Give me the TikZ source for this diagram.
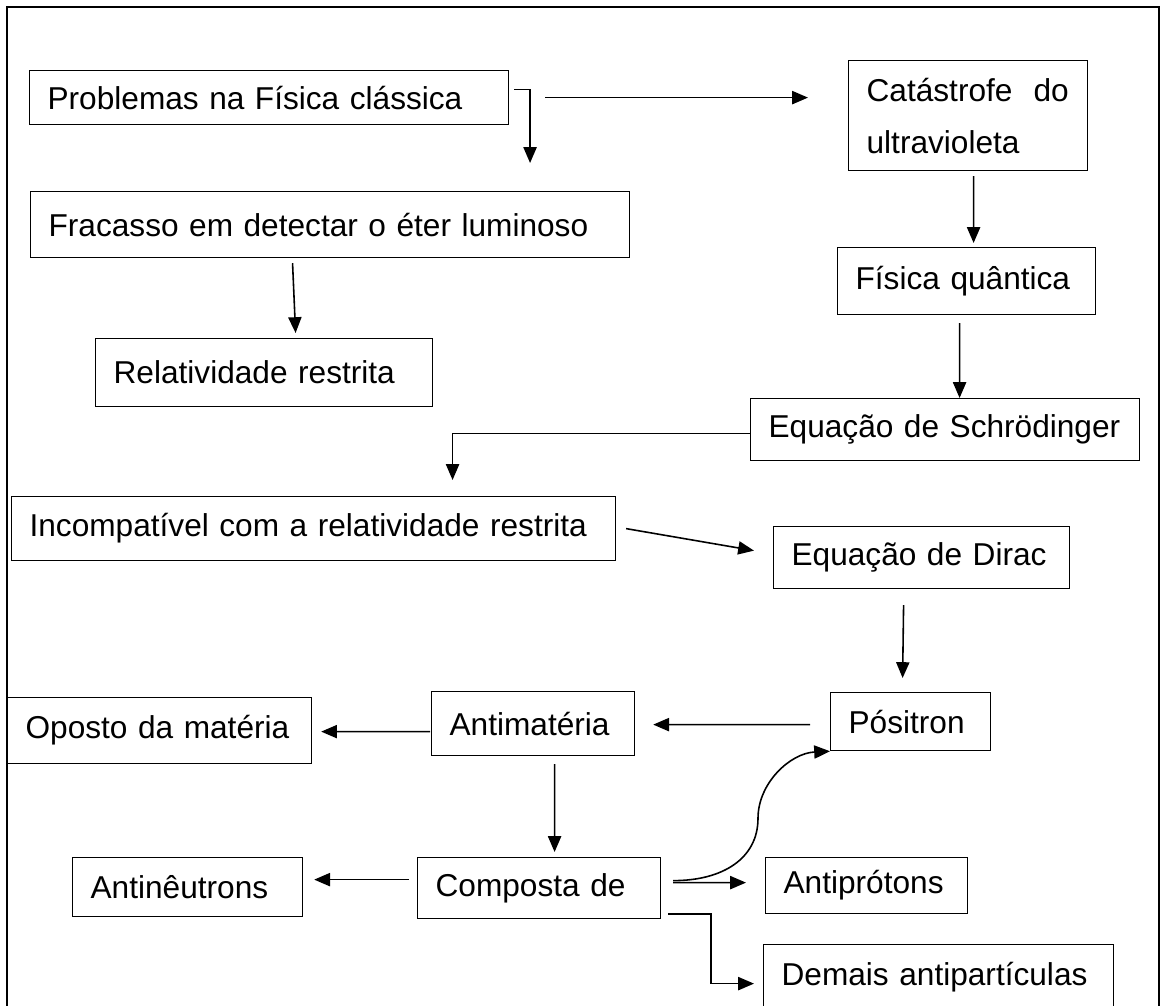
\documentclass[tikz,border=0pt]{standalone}
\usepackage{fontspec}
\setmainfont{Liberation Sans}
\usetikzlibrary{arrows.meta,calc}

\tikzset{
  caixa/.style={draw, line width=0.7pt, anchor=north west, align=left,
    inner xsep=0.36cm, inner ysep=0pt, font=\fontsize{18pt}{29.6pt}\selectfont},
  seta/.style={line width=0.9pt, -{Triangle[length=9pt,width=7.5pt]}},
  moldura/.style={line width=1.4pt}
}

\begin{document}
\begin{tikzpicture}[x=0.02cm, y=-0.02cm]

        \useasboundingbox (0,0) rectangle (1162,1005);
        \clip (0,0) rectangle (1162,1005);

        \draw[moldura] (7,7) rectangle (1159,1040);

        \node[caixa, minimum width=9.58cm, minimum height=1.08cm, text width=8.86cm] (prob) at (29,70) {Problemas na Física clássica};
        \node[caixa, minimum width=4.78cm, minimum height=2.2cm, text width=4.06cm] (cat) at (848,60) {Catástrofe~~do\\ultravioleta};
        \node[caixa, minimum width=11.98cm, minimum height=1.32cm, text width=11.26cm] (frac) at (30,191) {Fracasso em detectar o éter luminoso};
        \node[caixa, minimum width=5.16cm, minimum height=1.34cm, text width=4.44cm] (fq) at (837,247) {Física quântica};
        \node[caixa, minimum width=6.74cm, minimum height=1.36cm, text width=6.02cm] (rel) at (95,338) {Relatividade restrita};
        \node[caixa, minimum width=7.78cm, minimum height=1.24cm, text width=7.06cm] (schr) at (750,398) {Equação de Schrödinger};
        \node[caixa, minimum width=12.08cm, minimum height=1.28cm, text width=11.36cm] (inc) at (11,496) {Incompatível com a relatividade restrita};
        \node[caixa, minimum width=5.92cm, minimum height=1.24cm, text width=5.2cm] (dirac) at (773,526) {Equação de Dirac};
        \node[caixa, minimum width=6.08cm, minimum height=1.32cm, text width=5.36cm] (opo) at (7,697) {Oposto da matéria};
        \node[caixa, minimum width=4.06cm, minimum height=1.28cm, text width=3.34cm] (anti) at (431,691) {Antimatéria};
        \node[caixa, minimum width=3.2cm, minimum height=1.16cm, text width=2.48cm] (pos) at (830,692) {Pósitron};
        \node[caixa, minimum width=4.6cm, minimum height=1.18cm, text width=3.88cm] (antin) at (72,857) {Antinêutrons};
        \node[caixa, minimum width=4.86cm, minimum height=1.22cm, text width=4.14cm] (comp) at (417,857) {Composta de};
        \node[caixa, minimum width=4.04cm, minimum height=1.12cm, text width=3.32cm] (antip) at (765,857) {Antiprótons};
        \node[caixa, minimum width=7cm, minimum height=1.32cm, text width=6.28cm] (dem) at (763,944) {Demais antipartículas};

        \draw[seta] ($(prob.east)+(5,-8)$) -| ($(frac.north)+(200,-28)$);
        \draw[seta] ($(prob.east)+(36,0)$) -- ($(prob.east -| cat.west)+(-40,0)$);
        \draw[seta] ($(cat.south)+(5.5,5)$) -- ($(fq.north)+(7,-4)$);
        \draw[seta] ($(frac.south)+(-37.5,5)$) -- ($(rel.north)+(31.5,-5)$);
        \draw[seta] ($(fq.south)+(-7,8)$) -- ($(schr.north)+(14.5,0)$);
        \draw[seta] ($(schr.west)+(0,4)$) -| ($(inc.north)+(139,-16)$);
        \draw[seta] ($(inc.east)+(10,0)$) -- ($(dirac.west)+(-19,-7)$);
        \draw[seta] ($(dirac.south)+(-18,16)$) -- ($(pos.north)+(-8,-14)$);
        \draw[seta] ($(pos.west)+(-20,3)$) -- ($(anti.east)+(18,1)$);
        \draw[seta] ($(anti.west)+(-1,8)$) -- ($(opo.east)+(9,1)$);
        \draw[seta] ($(anti.south)+(21.5,8)$) -- ($(comp.north)+(15.5,-5)$);
        \draw[seta] ($(comp.west)+(-8,-8.5)$) -- ($(antin.east)+(11,-7.5)$);
        \draw[seta] ($(comp.east)+(12,-5.5)$) -- ($(antip.west)+(-19,-3)$);
        \draw[seta] ($(comp.east)+(12,-7.5)$) .. controls +(50,0) and +(0,40) .. ($(pos.south west)+(-72,67)$)
                .. controls +(0,-35) and +(-40,2) .. (pos.south west);
        \draw[seta] ($(comp.south east)+(7,-5)$) -- ++(43,0) |- ($(dem.west)+(-9,6)$);

\end{tikzpicture}
\end{document}
